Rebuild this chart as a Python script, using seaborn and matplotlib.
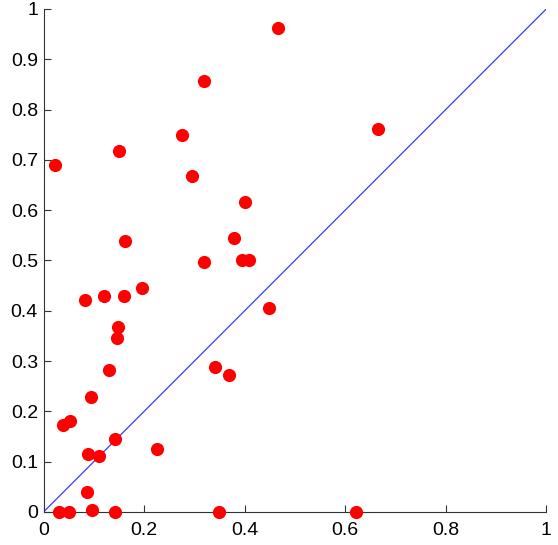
import matplotlib
matplotlib.use("Agg")
import matplotlib.pyplot as plt
import seaborn as sns
import pandas as pd
from matplotlib.ticker import FuncFormatter

x_vals = [0.023, 0.150, 0.162, 0.275, 0.319, 0.295, 0.401, 0.379, 0.320, 0.395,
          0.409, 0.466, 0.666, 0.0825, 0.120, 0.160, 0.195, 0.149, 0.146, 0.130,
          0.094, 0.039, 0.052, 0.142, 0.088, 0.110, 0.225, 0.087, 0.031, 0.051,
          0.096, 0.142, 0.350, 0.342, 0.369, 0.449, 0.621]
y_vals = [0.689, 0.717, 0.539, 0.750, 0.857, 0.668, 0.616, 0.545, 0.497, 0.500,
          0.500, 0.962, 0.761, 0.421, 0.429, 0.429, 0.446, 0.368, 0.345, 0.282,
          0.229, 0.172, 0.180, 0.145, 0.115, 0.112, 0.126, 0.040, 0.0, 0.0,
          0.004, 0.0, 0.0, 0.289, 0.272, 0.405, 0.0]
diag_x = [0, 1]
diag_y = [0, 1]
x_ticks = [0, 0.2, 0.4, 0.6, 0.8, 1]
y_ticks = [0, 0.1, 0.2, 0.3, 0.4, 0.5, 0.6, 0.7, 0.8, 0.9, 1]

sns.set_style("ticks")
plt.rcParams['font.family'] = ['Liberation Sans', 'DejaVu Sans']

df = pd.DataFrame({"x": x_vals, "y": y_vals})
fig = plt.figure(figsize=(5.58, 5.45), dpi=100)
ax = fig.add_axes([0.078, 0.0606, 0.901, 0.923])

sns.lineplot(x=diag_x, y=diag_y, ax=ax, color="#3a3aff", linewidth=0.9, zorder=2)
sns.scatterplot(data=df, x="x", y="y", ax=ax, color="#ff0000", s=90,
                linewidth=0, zorder=3, clip_on=False)
for coll in ax.collections:
    coll.set_clip_on(False)

ax.set_xlim(0, 1)
ax.set_ylim(0, 1)
ax.set_xticks(x_ticks)
ax.set_yticks(y_ticks)
fmt = FuncFormatter(lambda v, p: "%g" % v)
ax.xaxis.set_major_formatter(fmt)
ax.yaxis.set_major_formatter(fmt)
ax.tick_params(direction="in", length=5, width=0.8, labelsize=14, colors="#333333",
               labelcolor="black")
ax.tick_params(axis="x", pad=7.5)
ax.tick_params(axis="y", pad=4)
for s in ["top", "right"]:
    ax.spines[s].set_visible(False)
for s in ["left", "bottom"]:
    ax.spines[s].set_color("#333333")
    ax.spines[s].set_linewidth(0.8)
ax.set_xlabel("")
ax.set_ylabel("")
fig.savefig("out.png", dpi=100)
